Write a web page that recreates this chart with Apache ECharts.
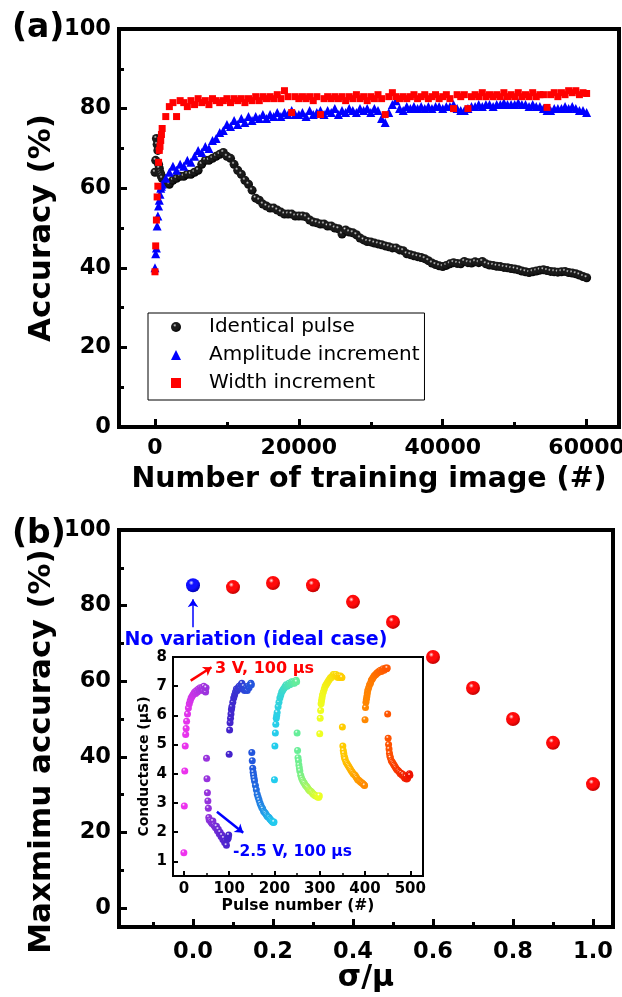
<!DOCTYPE html>
<html>
<head>
<meta charset="utf-8">
<script src="https://cdn.jsdelivr.net/npm/echarts@6/dist/echarts.min.js"></script>
<style>
html, body { margin: 0; padding: 0; background: #fff; }
#main { width: 622px; height: 997px; }
</style>
</head>
<body>
<div id="main"></div>
<script>
// ---- (a) accuracy vs number of training images ----
var imgX = [
  0, 100, 200, 300, 400, 500, 600, 700, 800, 900, 1000,
  1500, 2000, 2500, 3000, 3500, 4000, 4500, 5000, 5500, 6000, 6500, 7000, 7500, 8000, 8500, 9000, 9500, 10000,
  10500, 11000, 11500, 12000, 12500, 13000, 13500, 14000, 14500, 15000, 15500, 16000, 16500, 17000, 17500, 18000, 18500, 19000, 19500, 20000,
  20500, 21000, 21500, 22000, 22500, 23000, 23500, 24000, 24500, 25000, 25500, 26000, 26500, 27000, 27500, 28000, 28500, 29000, 29500, 30000,
  30500, 31000, 31500, 32000, 32500, 33000, 33500, 34000, 34500, 35000, 35500, 36000, 36500, 37000, 37500, 38000, 38500, 39000, 39500, 40000,
  40500, 41000, 41500, 42000, 42500, 43000, 43500, 44000, 44500, 45000, 45500, 46000, 46500, 47000, 47500, 48000, 48500, 49000, 49500, 50000,
  50500, 51000, 51500, 52000, 52500, 53000, 53500, 54000, 54500, 55000, 55500, 56000, 56500, 57000, 57500, 58000, 58500, 59000, 59500, 60000
];
var identicalPulse = [
  64, 67, 72.5, 71, 69.5, 66, 65, 64, 63.5, 63, 62.5,
  61.5, 61, 62, 62.5, 63, 63, 63.5, 63.5, 64, 64.5, 66, 67, 67, 67.5, 68, 68.5, 69, 68,
  67.5, 66, 64.5, 63.5, 62, 61, 59.5, 57.5, 57, 56, 55.5, 55, 55, 54.5, 54, 53.5, 53.5, 53.5, 53, 53,
  53, 52.8, 52, 51.5, 51.3, 51, 51, 50.5, 50.5, 50, 49.8, 48.5, 49.5, 49, 48.8, 48.3, 47.5, 47, 46.6, 46.5,
  46.2, 46, 45.8, 45.5, 45.3, 45, 45, 44.5, 44.3, 43.5, 43.3, 43, 42.8, 42.6, 42.3, 41.8, 41.2, 40.8, 40.5, 40.3,
  40.6, 41, 41.3, 41.1, 41, 41.6, 41.3, 41.2, 41.5, 41.3, 41.6, 41, 40.7, 40.6, 40.4, 40.3, 40.1, 40, 39.8, 39.7,
  39.5, 39.2, 39, 38.8, 39, 39.2, 39.4, 39.5, 39.3, 39.1, 39, 38.9, 39, 39.1, 38.8, 38.7, 38.5, 38.2, 37.8, 37.5
];
var amplitudeInc = [
  40, 43.5, 45, 50.5, 53, 55.5, 57, 58.5, 60, 60.5, 61,
  62.5, 64, 65.5, 64.5, 66, 65.5, 67, 66.5, 68, 69.5, 69, 70.5, 70, 72, 72.5, 74, 74.5, 76,
  75.5, 77, 76, 77.5, 76.5, 78, 77, 78, 77.5, 78.5, 77.5, 78.5, 78, 79, 78, 79, 78.5, 79.5, 78.5, 78.5,
  79, 78, 79.5, 78.5, 79, 79.5, 78.5, 79.5, 79, 80, 78.5, 79.5, 79, 80, 79.5, 79, 80, 79.5, 80, 79,
  80, 79.5, 77.5, 76.5, 79, 81, 82, 80, 79.5, 80.5, 80, 80.5, 80, 80.5, 80, 80.5, 80, 80.5, 80.5, 80,
  80.5, 80.5, 81, 80, 79.5, 79.5, 80, 80.5, 80.5, 81, 80.5, 81, 81, 80.5, 81, 81, 81.5, 81, 81, 81,
  81.5, 81, 81, 80.5, 81, 80.5, 80.5, 80, 79.5, 79.5, 80, 80, 80, 80.5, 80, 80.5, 80, 79.5, 79.5, 79
];
var widthInc = [
  39, 45.5, 52, 57.8, 60.5, 66.5, 69.5, 70.5, 72, 73.5, 75,
  78, 80.5, 81.5, 78, 82, 81.5, 80.5, 82, 81, 82.5, 81.5, 82, 81, 82.5, 82, 81.5, 82, 82.5,
  81.5, 82.5, 82, 82.5, 81.5, 82.5, 82, 83, 82, 83, 82.5, 83, 82.5, 83.5, 82.5, 84.5, 83, 79, 83, 82.5,
  83, 82.5, 83, 82, 83, 78.5, 82.5, 83, 82.5, 83, 82.5, 83, 82, 83, 82.5, 83.5, 82.5, 83, 82, 83,
  82.5, 83.5, 82.5, 78.5, 83, 84, 83, 82.5, 83, 82.5, 83, 83.5, 82.5, 83, 83.5, 82.5, 83, 83.5, 82.5, 83,
  83.5, 82.5, 80, 83.5, 83, 83.5, 80, 83, 83.5, 83, 84, 83, 83.5, 83, 83.5, 83, 84, 83, 83.5, 83,
  84, 83, 83.5, 83, 84, 83, 83.5, 83.5, 80.3, 83.5, 84, 83, 84, 83.5, 84.5, 84, 84.5, 83.5, 84, 83.8
];
var topXTicks = [0, 20000, 40000, 60000];
var topXMinor = [10000, 30000, 50000];
var topYTicks = [0, 20, 40, 60, 80, 100];
var topYMinor = [10, 30, 50, 70, 90];

// ---- (b) max accuracy vs sigma/mu ----
var sigmaMu = [0, 0.1, 0.2, 0.3, 0.4, 0.5, 0.6, 0.7, 0.8, 0.9, 1.0];
var maxAccuracy = [85.4, 84.9, 86, 85.4, 81, 75.7, 66.4, 58.2, 50, 43.7, 32.8];
var botXTicks = [0, 0.2, 0.4, 0.6, 0.8, 1.0];
var botXMinor = [-0.1, 0.1, 0.3, 0.5, 0.7, 0.9];
var botYTicks = [0, 20, 40, 60, 80, 100];
var botYMinor = [10, 30, 50, 70, 90];

// ---- inset: conductance vs pulse number ----
var segStart = [0, 50, 100, 150, 200, 250, 300, 350, 400, 450];
var pulseOffset = [0, 1, 2, 3, 4, 5, 6, 8, 10, 12, 14, 16, 18, 20, 22, 24, 26, 28, 30, 32, 34, 36, 38, 40, 42, 44, 46, 48, 49];
var conductance = [
  [1.3, 2.9, 4.1, 4.95, 5.35, 5.55, 5.8, 6.05, 6.25, 6.4, 6.5, 6.6, 6.65, 6.7, 6.75, 6.8, 6.75, 6.85, 6.8, 6.9, 6.85, 6.95, 6.9, 6.95, 6.85, 7.0, 6.9, 6.8, 6.95],
  [4.53, 3.83, 3.35, 3.07, 2.82, 2.5, 2.42, 2.4, 2.35, 2.3, 2.38, 2.25, 2.2, 2.15, 2.2, 2.05, 2.1, 1.95, 2.0, 1.85, 1.9, 1.75, 1.8, 1.65, 1.7, 1.55, 1.75, 1.8, 1.9],
  [4.67, 5.5, 5.75, 5.9, 6.05, 6.2, 6.3, 6.45, 6.6, 6.7, 6.8, 6.9, 6.85, 6.95, 7.0, 6.95, 7.05, 7.1, 6.9, 7.0, 6.85, 6.9, 6.95, 6.85, 7.0, 6.95, 7.05, 7.1, 7.05],
  [4.73, 4.45, 4.19, 4.05, 3.95, 3.85, 3.75, 3.6, 3.45, 3.3, 3.2, 3.1, 3.0, 2.92, 2.85, 2.8, 2.72, 2.68, 2.65, 2.6, 2.55, 2.52, 2.5, 2.45, 2.42, 2.38, 2.35, 2.33, 2.35],
  [3.8, 4.95, 5.4, 5.7, 5.9, 6.0, 6.1, 6.3, 6.45, 6.6, 6.7, 6.8, 6.85, 6.9, 6.95, 7.0, 7.05, 7.0, 7.05, 7.1, 7.05, 7.1, 7.15, 7.1, 7.15, 7.1, 7.15, 7.2, 7.15],
  [5.4, 4.8, 4.55, 4.45, 4.3, 4.2, 4.1, 3.95, 3.85, 3.78, 3.72, 3.68, 3.62, 3.58, 3.55, 3.5, 3.45, 3.42, 3.4, 3.38, 3.33, 3.3, 3.28, 3.25, 3.25, 3.22, 3.2, 3.2, 3.25],
  [5.37, 5.9, 6.17, 6.4, 6.5, 6.6, 6.7, 6.8, 6.9, 7.0, 7.05, 7.1, 7.15, 7.2, 7.25, 7.3, 7.3, 7.35, 7.4, 7.4, 7.35, 7.4, 7.35, 7.3, 7.35, 7.3, 7.35, 7.3, 7.3],
  [5.6, 4.95, 4.8, 4.7, 4.6, 4.55, 4.5, 4.4, 4.35, 4.3, 4.25, 4.2, 4.15, 4.1, 4.05, 4.0, 3.98, 3.95, 3.9, 3.85, 3.8, 3.78, 3.75, 3.72, 3.7, 3.68, 3.65, 3.62, 3.6],
  [5.85, 6.27, 6.45, 6.55, 6.65, 6.75, 6.85, 6.95, 7.05, 7.1, 7.2, 7.25, 7.3, 7.35, 7.38, 7.4, 7.45, 7.45, 7.5, 7.5, 7.55, 7.5, 7.55, 7.6, 7.55, 7.6, 7.62, 7.6, 7.62],
  [6.05, 5.22, 5.0, 4.85, 4.7, 4.6, 4.55, 4.45, 4.4, 4.35, 4.3, 4.25, 4.2, 4.15, 4.12, 4.1, 4.05, 4.0, 4.02, 3.95, 3.98, 3.9, 3.85, 3.9, 3.82, 3.85, 3.95, 4.0, 3.95]
];
var insetXTicks = [0, 100, 200, 300, 400, 500];
var insetXMinor = [50, 150, 250, 350, 450];
var insetYTicks = [1, 2, 3, 4, 5, 6, 7, 8];
var pulseColors = ['#ee33ee', '#9933dd', '#4422cc', '#2255dd', '#22ccee', '#66ee99',
                   '#eeff22', '#ffcc00', '#ff8800', '#ff5500', '#ee1100'];

var FONT = '"DejaVu Sans", sans-serif';

function sphere(light, mid, dark) {
    return {
        type: 'radial', x: 0.38, y: 0.33, r: 0.7,
        colorStops: [
            { offset: 0, color: light },
            { offset: 0.25, color: mid },
            { offset: 0.6, color: mid },
            { offset: 1, color: dark }
        ]
    };
}

// one value axis; "minor" axes only draw the short ticks
function axis(dim, grid, min, max, ticks, o) {
    var a = {
        type: 'value', gridIndex: grid, min: min, max: max,
        position: dim === 'x' ? 'bottom' : 'left',
        nameMoveOverlap: false,
        splitLine: { show: false },
        axisLine: { show: !o.minor, onZero: false, lineStyle: { color: '#000', width: o.lw } },
        axisTick: {
            show: true, inside: true, length: o.tl, customValues: ticks,
            lineStyle: { color: '#000', width: o.tw }
        },
        axisLabel: {
            show: !o.minor, customValues: ticks, margin: o.margin,
            color: '#000', fontFamily: FONT, fontWeight: 'bold', fontSize: o.fs,
            formatter: o.fmt || function (v) { return String(v); }
        }
    };
    if (o.name) {
        a.name = o.name;
        a.nameLocation = 'middle';
        a.nameGap = o.gap;
        a.nameTextStyle = {
            color: '#000', fontFamily: FONT, fontWeight: 'bold', fontSize: o.nfs,
            padding: o.npad || 0
        };
    }
    return a;
}

var insetData = [];
segStart.forEach(function (s, k) {
    pulseOffset.forEach(function (d, j) {
        insetData.push([s + d, conductance[k][j]]);
    });
});

function zip(xs, ys) {
    return xs.map(function (x, i) { return [x, ys[i]]; });
}

var myChart = echarts.init(document.getElementById('main'));

var option = {
    backgroundColor: '#fff',
    animation: false,
    textStyle: { fontFamily: FONT },
    grid: [
        { left: 119, top: 29, width: 500, height: 398, show: true, borderColor: '#000', borderWidth: 4, outerBoundsMode: 'none' },
        { left: 119, top: 530, width: 494, height: 397, show: true, borderColor: '#000', borderWidth: 4, outerBoundsMode: 'none' },
        { left: 173, top: 657, width: 250, height: 219, show: true, borderColor: '#000', borderWidth: 2,
          backgroundColor: '#fff', outerBoundsMode: 'none' }
    ],
    xAxis: [
        axis('x', 0, -5000, 64500, topXTicks, { lw: 4, tl: 8, tw: 3, fs: 22, margin: 10,
            name: 'Number of training image (#)', gap: 38, nfs: 28.5 }),
        axis('x', 0, -5000, 64500, topXMinor, { minor: true, tl: 5, tw: 3 }),
        axis('x', 1, -0.185, 1.05, botXTicks, { lw: 4, tl: 8, tw: 3, fs: 22.5, margin: 14,
            fmt: function (v) { return v.toFixed(1); }, name: 'σ/μ', gap: 36, nfs: 30 }),
        axis('x', 1, -0.185, 1.05, botXMinor, { minor: true, tl: 5, tw: 3 }),
        axis('x', 2, -24, 528, insetXTicks, { lw: 2, tl: 5, tw: 2, fs: 15, margin: 6,
            name: 'Pulse number (#)', gap: 22, nfs: 15.5 }),
        axis('x', 2, -24, 528, insetXMinor, { minor: true, tl: 3, tw: 1.5 })
    ],
    yAxis: [
        axis('y', 0, 0, 100, topYTicks, { lw: 4, tl: 8, tw: 3, fs: 22.5, margin: 8,
            name: 'Accuracy (%)', gap: 62, nfs: 31 }),
        axis('y', 0, 0, 100, topYMinor, { minor: true, tl: 5, tw: 3 }),
        axis('y', 1, -5, 100, botYTicks, { lw: 4, tl: 8, tw: 3, fs: 22.5, margin: 8,
            name: 'Maxmimu accuracy (%)', gap: 62, nfs: 31, npad: [0, 46, 0, 0] }),
        axis('y', 1, -5, 100, botYMinor, { minor: true, tl: 5, tw: 3 }),
        axis('y', 2, 0.5, 8, insetYTicks, { lw: 2, tl: 5, tw: 2, fs: 15, margin: 6,
            name: 'Conductance (μS)', gap: 22, nfs: 14 })
    ],
    legend: {
        orient: 'vertical', left: 148, top: 313,
        data: ['Identical pulse', 'Amplitude increment', 'Width increment'],
        borderColor: '#000', borderWidth: 1, borderRadius: 0,
        padding: [4, 5, 7, 23], itemGap: 8, itemWidth: 10, itemHeight: 10,
        textStyle: { color: '#000', fontFamily: FONT, fontSize: 20, lineHeight: 20, padding: [0, 0, 0, 23] }
    },
    series: [
        {
            name: 'Identical pulse', type: 'scatter', xAxisIndex: 0, yAxisIndex: 0,
            symbol: 'circle', symbolSize: 9,
            itemStyle: { color: sphere('#d8d8d8', '#1a1a1a', '#000'), opacity: 1 },
            data: zip(imgX, identicalPulse)
        },
        {
            name: 'Amplitude increment', type: 'scatter', xAxisIndex: 0, yAxisIndex: 0,
            symbol: 'triangle', symbolSize: 9,
            itemStyle: { color: '#0000ff', opacity: 1 },
            data: zip(imgX, amplitudeInc)
        },
        {
            name: 'Width increment', type: 'scatter', xAxisIndex: 0, yAxisIndex: 0,
            symbol: 'rect', symbolSize: 7,
            itemStyle: { color: '#ff0000', opacity: 1 },
            data: zip(imgX, widthInc)
        },
        {
            name: 'ideal', type: 'scatter', xAxisIndex: 2, yAxisIndex: 2,
            symbolSize: 14,
            itemStyle: { color: sphere('#e6e6ff', '#1010ff', '#0000b0'), opacity: 1 },
            data: zip(sigmaMu.slice(0, 1), maxAccuracy.slice(0, 1))
        },
        {
            name: 'variation', type: 'scatter', xAxisIndex: 2, yAxisIndex: 2,
            symbolSize: 14,
            itemStyle: { color: sphere('#ffe6e6', '#ff0a0a', '#c00000'), opacity: 1 },
            data: zip(sigmaMu.slice(1), maxAccuracy.slice(1))
        },
        {
            name: 'conductance', type: 'scatter', xAxisIndex: 4, yAxisIndex: 4,
            symbolSize: 7, z: 5,
            itemStyle: {
                opacity: 1,
                color: function (p) {
                    var c = echarts.color.lerp(p.value[0] / 500, pulseColors);
                    return {
                        type: 'radial', x: 0.38, y: 0.33, r: 0.7,
                        colorStops: [
                            { offset: 0, color: '#ffffff' },
                            { offset: 0.3, color: c },
                            { offset: 1, color: c }
                        ]
                    };
                }
            },
            data: insetData
        },
        {
            type: 'lines', coordinateSystem: 'cartesian2d', xAxisIndex: 2, yAxisIndex: 2,
            symbol: ['none', 'arrow'], symbolSize: 8, silent: true,
            lineStyle: { color: '#0000ff', width: 1.5, opacity: 1 },
            data: [{ coords: [[0, 74.3], [0, 81.7]] }]
        },
        {
            type: 'lines', coordinateSystem: 'cartesian2d', xAxisIndex: 4, yAxisIndex: 4,
            symbol: ['none', 'arrow'], symbolSize: 8, silent: true, z: 6,
            lineStyle: { width: 2.5, opacity: 1 },
            data: [
                { coords: [[15, 7.19], [61, 7.65]], lineStyle: { color: '#ff0000' } },
                { coords: [[73, 2.7], [131, 1.98]], lineStyle: { color: '#0000ff' } }
            ]
        }
    ],
    graphic: [
        { type: 'text', left: 12, top: 12, z: 100,
          style: { text: '(a)', font: 'bold 33px ' + FONT, fill: '#000' } },
        { type: 'text', left: 12, top: 518, z: 100,
          style: { text: '(b)', font: 'bold 33px ' + FONT, fill: '#000' } },
        { type: 'text', x: 256, y: 640, z: 100,
          style: { text: 'No variation (ideal case)', font: 'bold 19px ' + FONT, fill: '#0000ff',
                   align: 'center', verticalAlign: 'middle' } },
        { type: 'text', x: 215, y: 669, z: 100,
          style: { text: '3 V, 100 μs', font: 'bold 16px ' + FONT, fill: '#ff0000', verticalAlign: 'middle' } },
        { type: 'text', x: 233, y: 852, z: 100,
          style: { text: '-2.5 V, 100 μs', font: 'bold 15.5px ' + FONT, fill: '#0000ff', verticalAlign: 'middle' } }
    ]
};

myChart.setOption(option);
</script>
</body>
</html>
